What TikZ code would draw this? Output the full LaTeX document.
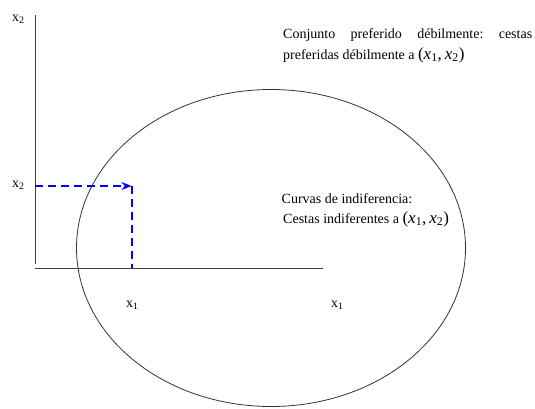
\documentclass[tikz,border=0pt]{standalone}
\usepackage{fontspec}
\setmainfont{Liberation Serif}
\usetikzlibrary{arrows.meta}
\frenchspacing
\newcommand{\pairxx}{{\fontsize{17}{17}\selectfont(\textit{x}\textsubscript{1},\,\textit{x}\textsubscript{2})}}
\begin{document}
\begin{tikzpicture}[x=1pt,y=-1pt,
  axis/.style={draw=black!75,line width=1pt},
  guide/.style={draw=blue,line width=2pt,dash pattern=on 8pt off 5pt},
  lbl/.style={inner sep=0pt,anchor=base west,font=\fontsize{14}{16}\selectfont},
  txt/.style={inner sep=0pt,anchor=base west,font=\fontsize{14}{16}\selectfont}]
\useasboundingbox (0,0) rectangle (535,408);
\coordinate (O) at (35,268);
\coordinate (Yend) at (35,264);
\coordinate (Ytop) at (35,15);
\coordinate (Xend) at (323,268);
\coordinate (Px) at (131.5,268);
\coordinate (Py) at (35,186);
\coordinate (P) at (131.5,186);
\draw[axis] (Ytop) -- (Yend);
\draw[axis] (O) -- (Xend);
\draw[black!80,line width=0.8pt] (271,248) ellipse [x radius=194.5, y radius=158.5];
\draw[guide,-{Stealth[length=10pt,width=8pt]}] (Py) -- (P);
\draw[guide] (P) -- (Px);
\node[lbl] (ly) at (12,21) {x\textsubscript{2}};
\node[lbl] (ly2) at (12,187) {x\textsubscript{2}};
\node[lbl] (lx) at (126,307) {x\textsubscript{1}};
\node[lbl] (lx2) at (331,307) {x\textsubscript{1}};
\node[txt] (t1) at (283,38) {\makebox[249pt][s]{Conjunto preferido débilmente: cestas}};
\node[txt] (t2) at (283,59) {preferidas débilmente a \pairxx};
\node[txt] (t3) at (281.5,203) {Curvas de indiferencia:};
\node[txt] (t4) at (283,223) {Cestas indiferentes a \pairxx};
\end{tikzpicture}
\end{document}
